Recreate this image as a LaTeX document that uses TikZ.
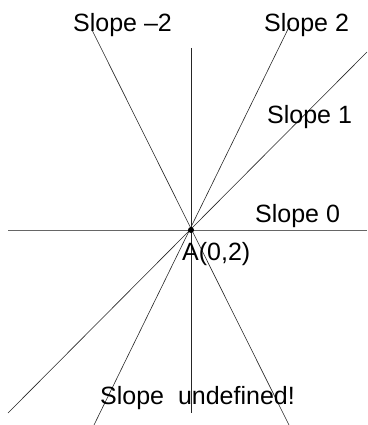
\documentclass[tikz,border=0pt]{standalone}
\usepackage{fontspec}
\setmainfont{Liberation Sans}
\begin{document}
\begin{tikzpicture}[x=1pt,y=-1pt,
  ln/.style={line width=0.6pt,draw=black!85},
  lbl/.style={inner sep=0pt,anchor=base west,font=\fontsize{25}{30}\selectfont}]
\useasboundingbox (0,0) rectangle (367,425);
\coordinate (A) at (191,230);
\coordinate (vt) at (191,48);
\coordinate (vb) at (191,413);
\coordinate (hl) at (8,230);
\coordinate (hr) at (367,230);
\coordinate (m2t) at (92,30);
\coordinate (m2b) at (289,425);
\coordinate (p2t) at (290,25);
\coordinate (p2b) at (94,425);
\coordinate (p1t) at (367,52);
\coordinate (p1b) at (8,413);
\draw[ln] (vt) -- (vb);
\draw[ln,draw=black!60] (hl) -- (hr);
\draw[ln] (m2t) -- (m2b);
\draw[ln] (p2t) -- (p2b);
\draw[ln] (p1t) -- (p1b);
\fill (A) circle (3);
\node[lbl] (lm2) at (73,32) {Slope –2};
\node[lbl] (lp2) at (264,32) {Slope 2};
\node[lbl] (lp1) at (267,123) {Slope 1};
\node[lbl] (l0) at (255,222) {Slope 0};
\node[lbl] (lA) at (182,260) {A(0,2)};
\node[lbl] (lu) at (100,404) {Slope\ \ undefined!};
\end{tikzpicture}
\end{document}
